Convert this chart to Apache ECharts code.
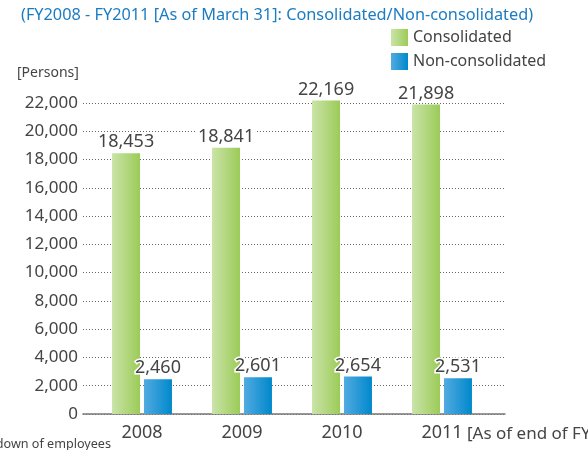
<!DOCTYPE html>
<html>
<head>
<meta charset="utf-8">
<script src="https://cdn.jsdelivr.net/npm/echarts@6/dist/echarts.min.js"></script>
<style>html,body{margin:0;padding:0;background:#fff}#c{width:588px;height:450px}</style>
</head>
<body>
<div id="c"></div>
<script>
var years = ['2008', '2009', '2010', '2011'];
var consolidated = [18453, 18841, 22169, 21898];
var nonConsolidated = [2460, 2601, 2654, 2531];
var yTicks = [0, 2000, 4000, 6000, 8000, 10000, 12000, 14000, 16000, 18000, 20000, 22000];

var FONT = '"Noto Sans", sans-serif';
var fmt = function (v) { return Number(v).toLocaleString('en-US'); };
var grad = function (a, b) {
  return new echarts.graphic.LinearGradient(0, 0, 1, 0, [{offset: 0, color: a}, {offset: 1, color: b}]);
};
var yMin = yTicks[0], yMax = yTicks[yTicks.length - 1], yStep = yTicks[1] - yTicks[0];

var chart = echarts.init(document.getElementById('c'), null, {renderer: 'canvas'});
chart.setOption({
  animation: false,
  textStyle: {fontFamily: FONT},
  title: {
    text: '(FY2008 - FY2011 [As of March 31]: Consolidated/Non-consolidated)',
    left: 21, top: 7, padding: 0,
    textStyle: {fontFamily: FONT, fontSize: 16.3, fontWeight: 'normal', color: '#1b7cc2'}
  },
  legend: {
    orient: 'vertical', left: 391, top: 29, padding: 0,
    itemWidth: 17, itemHeight: 17, itemGap: 7, icon: 'rect',
    textStyle: {fontFamily: FONT, fontSize: 16, color: '#444'},
    data: ['Consolidated', 'Non-consolidated']
  },
  grid: [
    {left: 83, right: 83, top: 103, bottom: 36},
    {left: 92, right: 96, top: 103, bottom: 36}
  ],
  xAxis: [
    {gridIndex: 0, type: 'value', min: 0, max: 1,
     axisLine: {show: true, lineStyle: {color: '#777', width: 1.5}},
     axisTick: {show: false}, axisLabel: {show: false}, splitLine: {show: false}},
    {gridIndex: 1, type: 'category', data: years,
     axisLine: {show: false}, axisTick: {show: false},
     axisLabel: {margin: 10, fontFamily: FONT, fontSize: 18, color: '#444'}}
  ],
  yAxis: [
    {gridIndex: 0, type: 'value', min: yMin, max: yMax, interval: yStep,
     axisLine: {show: false}, axisTick: {show: false},
     axisLabel: {margin: 5, fontFamily: FONT, fontSize: 17, color: '#444', formatter: fmt},
     splitLine: {show: true, lineStyle: {color: '#666', width: 1, type: [1, 2]}}},
    {gridIndex: 1, type: 'value', min: yMin, max: yMax, interval: yStep, show: false}
  ],
  series: [
    {name: 'Consolidated', type: 'bar', xAxisIndex: 1, yAxisIndex: 1,
     data: consolidated, barWidth: 28, barGap: '14%', clip: false,
     itemStyle: {color: grad('#cae4a8', '#9ccb58')},
     label: {show: true, position: 'top', distance: 2, formatter: function (p) { return fmt(p.value); },
             fontFamily: FONT, fontSize: 18, color: '#444', backgroundColor: '#fff', padding: [0, 1]}},
    {name: 'Non-consolidated', type: 'bar', xAxisIndex: 1, yAxisIndex: 1,
     data: nonConsolidated, barWidth: 28, barGap: '14%', clip: false,
     itemStyle: {color: grad('#52abe0', '#0088cc')},
     label: {show: true, position: 'top', distance: 2, formatter: function (p) { return fmt(p.value); },
             fontFamily: FONT, fontSize: 18, color: '#444', textBorderColor: '#fff', textBorderWidth: 3}}
  ],
  graphic: [
    {type: 'text', left: 17, top: 66, style: {text: '[Persons]', fontFamily: FONT, fontSize: 14, fill: '#444'}},
    {type: 'text', x: 467, y: 434, style: {text: '[As of end of FY]', fontFamily: FONT, fontSize: 17, fill: '#444', verticalAlign: 'middle', align: 'left'}},
    {type: 'text', x: 111, y: 444, style: {text: 'Breakdown of employees', fontFamily: FONT, fontSize: 12.6, fill: '#444', verticalAlign: 'middle', align: 'right'}}
  ]
});
</script>
</body>
</html>
